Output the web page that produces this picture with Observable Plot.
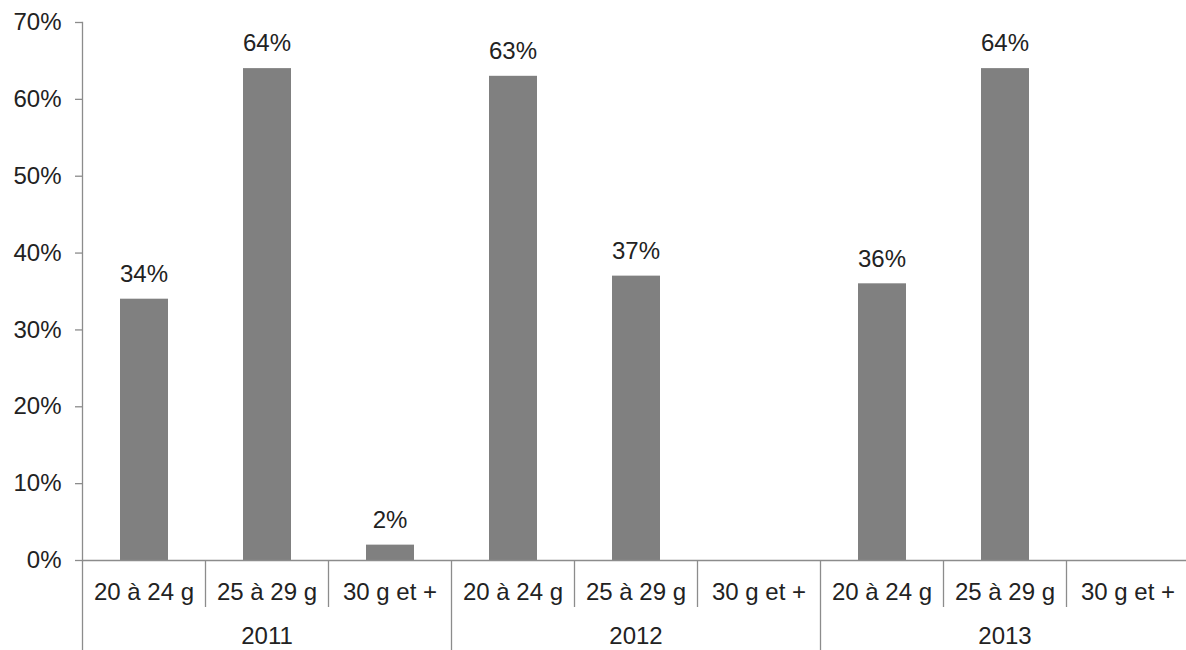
<!DOCTYPE html>
<html>
<head>
<meta charset="utf-8">
<script src="https://cdn.jsdelivr.net/npm/d3@7"></script>
<script src="https://cdn.jsdelivr.net/npm/@observablehq/plot@0.6"></script>
<style>
  html, body { margin: 0; padding: 0; background: #fff; }
  svg { display: block; }
</style>
</head>
<body>
<div id="chart"></div>
<script>
const years = ["2011", "2012", "2013"];
const sizes = ["20 à 24 g", "25 à 29 g", "30 g et +"];
const values2011 = [34, 64, 2];
const values2012 = [63, 37, null];
const values2013 = [36, 64, null];
const yTicks = [0, 10, 20, 30, 40, 50, 60, 70];

const series = [values2011, values2012, values2013];
const data = years.flatMap((yr, i) => sizes.map((s, j) => ({
  year: yr, size: s, key: yr + "|" + s, value: series[i][j]
})));
const keys = data.map(d => d.key);

const textColor = "#222";
const lineColor = "#8c8c8c";
const font = "'Liberation Sans', Arial, sans-serif";

// separators drawn from the x band scale
function separators(index, scales, values, dimensions) {
  const x = scales.x;
  const bw = x(keys[1]) - x(keys[0]);
  const y0 = scales.y(0);
  const g = d3.create("svg:g").attr("stroke", lineColor).attr("stroke-width", 1.3);
  data.forEach((d, i) => {
    const left = Math.round(x(d.key)) + 0.5;
    const isYearStart = i % sizes.length === 0;
    g.append("line")
      .attr("x1", left).attr("x2", left)
      .attr("y1", y0).attr("y2", isYearStart ? dimensions.height : y0 + 47);
  });
  const last = Math.round(x(keys[keys.length - 1]) + bw) + 0.5;
  g.append("line").attr("x1", last).attr("x2", last).attr("y1", y0).attr("y2", dimensions.height);
  return g.node();
}

const chart = Plot.plot({
  width: 1186,
  height: 650,
  marginTop: 22,
  marginBottom: 90,
  marginLeft: 82,
  marginRight: 0,
  style: { fontFamily: font, background: "#fff" },
  x: { domain: keys, range: [82, 1189], padding: 0, axis: null },
  y: { domain: [0, 70], axis: null, label: null },
  marks: [
    Plot.axisY({
      ticks: yTicks,
      tickFormat: d => d + "%",
      tickSize: 7,
      tickPadding: 14,
      fontSize: 24,
      fill: textColor,
      stroke: lineColor,
      strokeWidth: 1.3,
      label: null
    }),
    Plot.frame({ anchor: "left", stroke: lineColor, strokeWidth: 1.3 }),
    Plot.barY(data.filter(d => d.value != null), {
      x: "key", y: "value", fill: "#808080", insetLeft: 38, insetRight: 37
    }),
    Plot.ruleY([0], { stroke: lineColor, strokeWidth: 1.3 }),
    Plot.text(data.filter(d => d.value != null), {
      x: "key", y: "value", text: d => d.value + "%",
      dy: -25, lineAnchor: "middle", fontSize: 24, fill: textColor
    }),
    Plot.text(data, {
      x: "key", text: "size", frameAnchor: "bottom",
      dy: 32, lineAnchor: "middle", fontSize: 24, fill: textColor
    }),
    Plot.text(years, {
      x: d => d + "|" + sizes[1], text: d => d, frameAnchor: "bottom",
      dy: 76, lineAnchor: "middle", fontSize: 24, fill: textColor
    }),
    separators
  ]
});
document.getElementById("chart").appendChild(chart);
</script>
</body>
</html>
